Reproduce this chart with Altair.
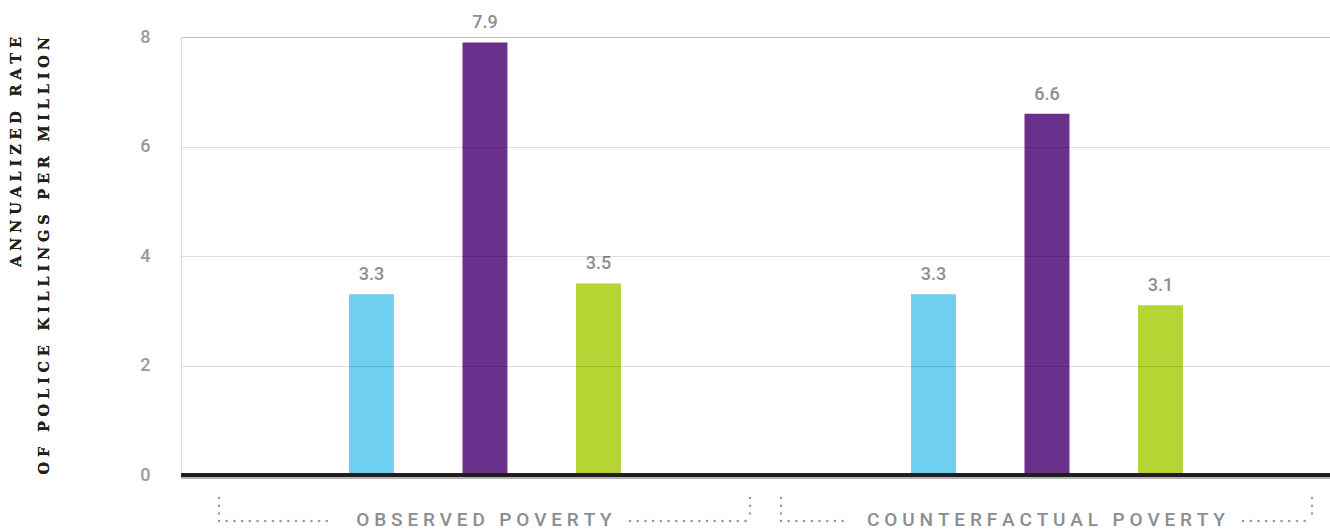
import altair as alt
import pandas as pd

group_labels = ["OBSERVED POVERTY", "COUNTERFACTUAL POVERTY"]
races = ["White", "Black", "Hispanic"]
observed = [3.3, 7.9, 3.5]
counterfactual = [3.3, 6.6, 3.1]
colors = ["#6fcfef", "#6b2f8c", "#b6d433"]
y_ticks = [0, 2, 4, 6, 8]
y_title = ["ANNUALIZED RATE", "OF POLICE KILLINGS PER MILLION"]


def spaced(s, sep):
    return sep.join(list(s))


rows = []
for g, vals in zip(group_labels, [observed, counterfactual]):
    for r, v in zip(races, vals):
        rows.append({"group": g, "race": r, "rate": v})
df = pd.DataFrame(rows)
gdf = pd.DataFrame({"group": group_labels, "label": [spaced(g, "\u2005") for g in group_labels]})

W, H = 1149, 438
GRAY = "#8c8d91"
SANS = "Roboto"

x_scale = alt.Scale(domain=group_labels, paddingInner=0, paddingOuter=0.0222, align=0.88)
xenc = alt.X("group:N", scale=x_scale, axis=None, sort=group_labels)
xoff = alt.XOffset("race:N", scale=alt.Scale(domain=races, range=[146, 418], paddingInner=0.604, paddingOuter=0), sort=races)
yscale = alt.Scale(domain=[0, 8], nice=False)

bars = alt.Chart(df).mark_bar().encode(
    x=xenc,
    xOffset=xoff,
    y=alt.Y("rate:Q", scale=yscale, axis=alt.Axis(
        values=y_ticks, grid=True, gridColor="#000000", gridOpacity=0.13, gridWidth=1,
        domain=False, ticks=False, labelPadding=31, labelFontSize=18, labelFontWeight=500,
        labelColor="#9a9a9a", labelFont=SANS, title=None, zindex=1,
    )),
    color=alt.Color("race:N", scale=alt.Scale(domain=races, range=colors), legend=None),
)

labels = alt.Chart(df).mark_text(
    dy=-14, baseline="alphabetic", fontSize=18, fontWeight=500, color=GRAY, font=SANS
).encode(
    x=xenc, xOffset=xoff, y=alt.Y("rate:Q", scale=yscale), text=alt.Text("rate:Q", format=".1f")
)

zero_gray = alt.Chart(gdf).mark_rule(color="#9a9a9a", strokeWidth=1, yOffset=3).encode(y=alt.datum(0))
zero = alt.Chart(gdf).mark_rule(color="#231f20", strokeWidth=4, opacity=0.93).encode(y=alt.datum(0))

title = alt.Chart(gdf).mark_text(
    text=[spaced(t, "\u2004") for t in y_title], angle=270, align="right", baseline="top",
    font="DejaVu Serif", fontWeight="bold", fontSize=14.5, lineHeight=28, color="#231f20"
).encode(x=alt.value(-171), y=alt.value(0))

glabels = alt.Chart(gdf).mark_text(
    fontSize=19, fontWeight=500, color=GRAY, font=SANS, baseline="middle"
).encode(x=xenc, y=alt.value(H + 45), text="label:N")

dot = dict(color="#9a9a9a", strokeWidth=2.5, strokeDash=[0.1, 7.6], strokeCap="round")
vleft = alt.Chart(gdf).mark_rule(xOffset=16, **dot).encode(
    x=alt.X("group:N", scale=x_scale, axis=None, sort=group_labels, bandPosition=0),
    y=alt.value(H + 23), y2=alt.value(H + 46))
vright = alt.Chart(gdf).mark_rule(xOffset=-15, **dot).encode(
    x=alt.X("group:N", scale=x_scale, axis=None, sort=group_labels, bandPosition=1),
    y=alt.value(H + 23), y2=alt.value(H + 46))

gaps = {"OBSERVED POVERTY": (154, 146), "COUNTERFACTUAL POVERTY": (196, 197)}
hsegs = []
for g in group_labels:
    lg, rg = gaps[g]
    base = alt.Chart(gdf).transform_filter(alt.datum.group == g)
    hsegs.append(base.mark_rule(xOffset=16, x2Offset=-lg, **dot).encode(
        x=alt.X("group:N", scale=x_scale, axis=None, sort=group_labels, bandPosition=0),
        x2=alt.X2("group:N", bandPosition=0.5),
        y=alt.value(H + 46)))
    hsegs.append(base.mark_rule(xOffset=rg, x2Offset=-15, **dot).encode(
        x=alt.X("group:N", scale=x_scale, axis=None, sort=group_labels, bandPosition=0.5),
        x2=alt.X2("group:N", bandPosition=1),
        y=alt.value(H + 46)))

chart = alt.layer(
    bars, zero_gray, zero, labels, title, glabels, vleft, vright, *hsegs
).properties(
    width=W, height=H,
    autosize=alt.AutoSizeParams(type="none"),
    padding={"left": 181, "top": 37, "right": 0, "bottom": 56},
).configure_view(stroke=None).configure(background="white")

chart.save("out.html", embed_options={"renderer": "svg", "actions": False})
